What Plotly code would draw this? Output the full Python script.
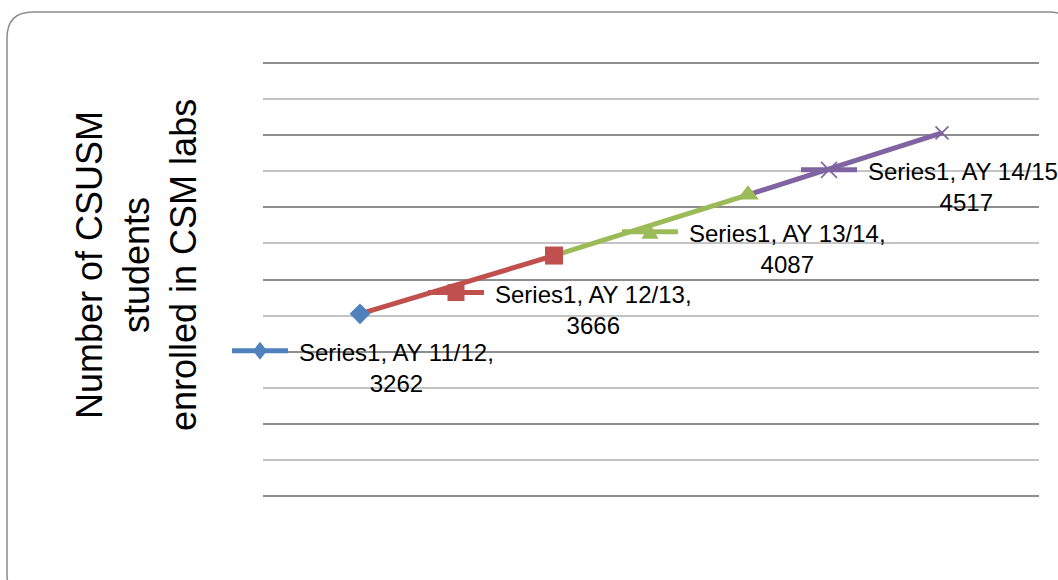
import plotly.graph_objects as go

# ---- data ----
series_name = "Series1"
categories = ["AY 11/12", "AY 12/13", "AY 13/14", "AY 14/15"]
values = [3262, 3666, 4087, 4517]
y_title = "Number of CSUSM<br>students<br>enrolled in CSM labs"

# ---- style ----
colors = ["#4F81BD", "#C0504D", "#9BBB59", "#8064A2"]
symbols = ["diamond", "square", "triangle-up", "x-thin"]
sizes = [16, 18, 19, 13]
FONT = "Liberation Sans"

W, H = 1058, 580
L, R, T, B = 263, 1039, 61, 498   # plot area in pixels
YMIN, YMAX = 1985, 5015
XMIN, XMAX = -0.5, len(categories) - 0.5


def px(xp):
    return (xp - L) / (R - L)


def py(yp):
    return (B - yp) / (B - T)


xs = list(range(len(categories)))
fig = go.Figure()

# line segments, each coloured like the point it leads to
for i in range(1, len(values)):
    fig.add_trace(go.Scatter(
        x=[xs[i - 1], xs[i]], y=[values[i - 1], values[i]], mode="lines",
        line=dict(color=colors[i], width=5), showlegend=False, hoverinfo="skip"))

# markers
for i, v in enumerate(values):
    mk = dict(symbol=symbols[i], size=sizes[i], color=colors[i],
              line=dict(width=0, color=colors[i]))
    if symbols[i] == "x-thin":
        mk["line"] = dict(width=1.6, color=colors[i])
    fig.add_trace(go.Scatter(x=[xs[i]], y=[v], mode="markers", marker=mk,
                             showlegend=False, hoverinfo="skip"))

# data labels with legend keys (offsets in pixels relative to the point)
key_dx = [-100, -98, -98, -113]
key_dy = -37
shapes = []
annotations = []
for i, v in enumerate(values):
    kc = key_dx[i]
    c = colors[i]
    # anchor of the point expressed as a fraction of the plot area (not clipped)
    base = dict(xref="paper", yref="paper", xsizemode="pixel", ysizemode="pixel",
                xanchor=(xs[i] - XMIN) / (XMAX - XMIN),
                yanchor=(v - YMIN) / (YMAX - YMIN), layer="above")
    shapes.append(dict(type="line", x0=kc - 28, x1=kc + 28, y0=key_dy, y1=key_dy,
                       line=dict(color=c, width=5), **base))
    y0 = key_dy
    if symbols[i] == "diamond":
        path = f"M{kc-7},{y0} L{kc},{y0+9} L{kc+7},{y0} L{kc},{y0-9} Z"
        shapes.append(dict(type="path", path=path, fillcolor=c,
                           line=dict(width=0, color=c), **base))
    elif symbols[i] == "square":
        path = f"M{kc-8.5},{y0-8.5} L{kc+8.5},{y0-8.5} L{kc+8.5},{y0+8.5} L{kc-8.5},{y0+8.5} Z"
        shapes.append(dict(type="path", path=path, fillcolor=c,
                           line=dict(width=0, color=c), **base))
    elif symbols[i] == "triangle-up":
        path = f"M{kc-8.5},{y0-7} L{kc+8.5},{y0-7} L{kc},{y0+8} Z"
        shapes.append(dict(type="path", path=path, fillcolor=c,
                           line=dict(width=0, color=c), **base))
    else:
        path = f"M{kc-8},{y0-8} L{kc+8},{y0+8} M{kc-8},{y0+8} L{kc+8},{y0-8}"
        shapes.append(dict(type="path", path=path,
                           line=dict(width=1.6, color=c), **base))
    annotations.append(dict(
        x=xs[i], y=v, xref="x", yref="y", showarrow=False,
        text=f"{series_name}, {categories[i]},<br>{v}",
        xanchor="left", yanchor="middle", align="center",
        xshift=kc + 37, yshift=-54,
        font=dict(family=FONT, size=24, color="#000000")))

# axis title
annotations.append(dict(
    x=px(136), y=py(265), xref="paper", yref="paper", showarrow=False,
    text=y_title, textangle=-90, xanchor="center", yanchor="middle",
    align="center", font=dict(family=FONT, size=36, color="#000000")))

# rounded chart border
bx0, by0, bx1, by1, r = 7, 12, 1075, 600, 26
bpath = (f"M{px(bx0)},{py(by0+r)} Q{px(bx0)},{py(by0)} {px(bx0+r)},{py(by0)} "
         f"L{px(bx1-r)},{py(by0)} Q{px(bx1)},{py(by0)} {px(bx1)},{py(by0+r)} "
         f"L{px(bx1)},{py(by1-r)} Q{px(bx1)},{py(by1)} {px(bx1-r)},{py(by1)} "
         f"L{px(bx0+r)},{py(by1)} Q{px(bx0)},{py(by1)} {px(bx0)},{py(by1-r)} Z")
shapes.append(dict(type="path", xref="paper", yref="paper", path=bpath,
                   line=dict(color="#8c8c8c", width=1.5), layer="below"))

fig.update_layout(
    width=W, height=H,
    margin=dict(l=L, r=W - R, t=T, b=H - B, pad=0),
    paper_bgcolor="white", plot_bgcolor="white",
    showlegend=False, hovermode=False,
    shapes=shapes, annotations=annotations,
    xaxis=dict(range=[XMIN, XMAX], showticklabels=False,
               showgrid=False, zeroline=False, showline=False, ticks=""),
    yaxis=dict(range=[YMIN, YMAX], dtick=500, tick0=0, showticklabels=False,
               showgrid=True, gridcolor="#8e8e8e", gridwidth=1.5,
               minor=dict(dtick=250, tick0=0, showgrid=True, gridcolor="#c4c4c4", gridwidth=1.5),
               zeroline=False, showline=False, ticks=""),
)

fig.write_html("out.html", config={"displayModeBar": False},
               post_script="document.body.style.margin='0';")
